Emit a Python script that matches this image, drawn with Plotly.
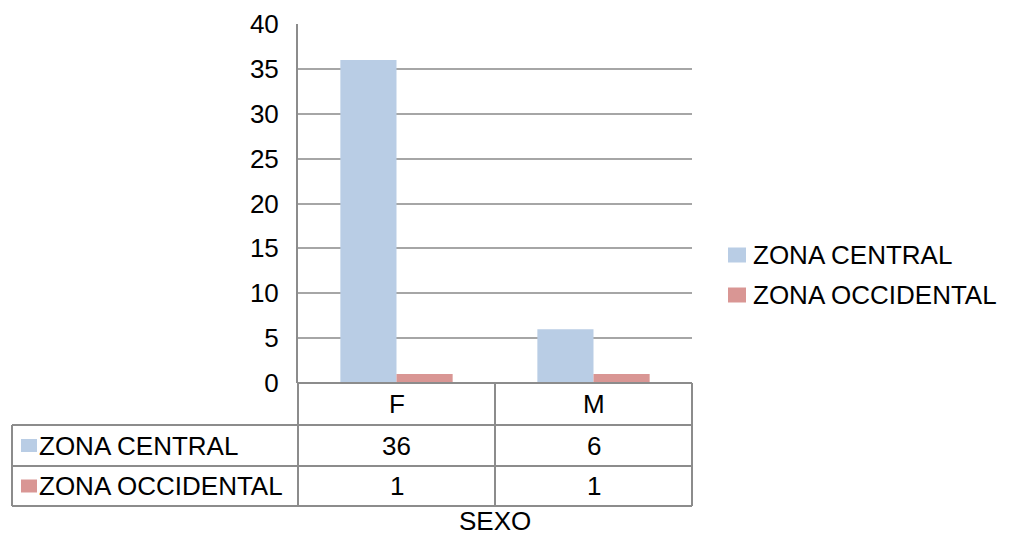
import plotly.graph_objects as go

# Data
categories = ["F", "M"]
series_names = ["ZONA CENTRAL", "ZONA OCCIDENTAL"]
zona_central = [36, 6]
zona_occidental = [1, 1]
series_values = [zona_central, zona_occidental]
colors = ["#B9CDE5", "#D99694"]
x_title = "SEXO"

W, H = 1010, 537
FONT = "Liberation Sans"
FS = 26
GRID = "#A6A6A6"
LINE = "#8C8C8C"

# pixel helpers (paper coords with zero margins)
def px(x):
    return x / W

def py(y):
    return 1 - y / H

plot_left, plot_right = 298, 692
plot_top, plot_bottom = 24, 383
rows_y = [383, 425, 466, 506]
col_x = [12, 298, 495, 692]
legend_rows = [255, 295]

fig = go.Figure()
for name, vals, col in zip(series_names, series_values, colors):
    fig.add_trace(go.Bar(x=categories, y=vals, name=name, marker_color=col,
                         marker_line_width=0, showlegend=False))

shapes = []
# table horizontal lines
shapes.append(dict(type="line", xref="paper", yref="paper", x0=px(plot_left), x1=px(col_x[-1]),
                   y0=py(rows_y[0]), y1=py(rows_y[0]), line=dict(color=LINE, width=2)))
for yy in rows_y[1:]:
    shapes.append(dict(type="line", xref="paper", yref="paper", x0=px(col_x[0]), x1=px(col_x[-1]),
                       y0=py(yy), y1=py(yy), line=dict(color=LINE, width=2)))
# table vertical lines
shapes.append(dict(type="line", xref="paper", yref="paper", x0=px(col_x[0]), x1=px(col_x[0]),
                   y0=py(rows_y[1]), y1=py(rows_y[3]), line=dict(color=LINE, width=2)))
for xx in col_x[1:]:
    shapes.append(dict(type="line", xref="paper", yref="paper", x0=px(xx), x1=px(xx),
                       y0=py(rows_y[0]), y1=py(rows_y[3]), line=dict(color=LINE, width=2)))

text_font = dict(size=FS, color="#000", family=FONT)
annotations = []
centers = [(col_x[1] + col_x[2]) / 2, (col_x[2] + col_x[3]) / 2]
header_y = (rows_y[0] + rows_y[1]) / 2
for c, cx in zip(categories, centers):
    annotations.append(dict(x=px(cx), y=py(header_y), xref="paper", yref="paper", text=c,
                            yanchor="middle", showarrow=False, font=text_font))
for i, (name, vals, col) in enumerate(zip(series_names, series_values, colors)):
    ry = (rows_y[i + 1] + rows_y[i + 2]) / 2
    for v, cx in zip(vals, centers):
        annotations.append(dict(x=px(cx), y=py(ry), xref="paper", yref="paper", text=str(v),
                                yanchor="middle", showarrow=False, font=text_font))
    # legend key square in the row header
    shapes.append(dict(type="rect", xref="paper", yref="paper", x0=px(21), x1=px(37),
                       y0=py(ry + 6.5), y1=py(ry - 6.5), fillcolor=col, line=dict(width=0)))
    annotations.append(dict(x=px(37), y=py(ry), xref="paper", yref="paper", text=name,
                            xanchor="left", yanchor="middle", showarrow=False, font=text_font))

    # side legend
    ly = legend_rows[i]
    shapes.append(dict(type="rect", xref="paper", yref="paper", x0=px(728), x1=px(746),
                       y0=py(ly + 7.5), y1=py(ly - 7.5), fillcolor=col, line=dict(width=0)))
    annotations.append(dict(x=px(751), y=py(ly), xref="paper", yref="paper", text=name,
                            xanchor="left", yanchor="middle", showarrow=False, font=text_font))

# axis title under the table
annotations.append(dict(x=px(495), y=0, xref="paper", yref="paper", text=x_title,
                        yanchor="bottom", borderpad=0, showarrow=False, font=text_font))

fig.update_layout(
    width=W, height=H,
    margin=dict(l=0, r=0, t=0, b=0, autoexpand=False),
    paper_bgcolor="white", plot_bgcolor="white",
    barmode="group", bargap=0.43, bargroupgap=0,
    font=dict(family=FONT, size=FS, color="#000"),
    showlegend=False,
    xaxis=dict(domain=[px(plot_left), px(plot_right)], showticklabels=False, showgrid=False,
               zeroline=False, showline=False, ticks="", automargin=False),
    yaxis=dict(domain=[py(plot_bottom), py(plot_top)], range=[0, 40], dtick=5,
               showgrid=True, gridcolor=GRID, gridwidth=1.5, zeroline=False,
               showline=True, linecolor=LINE, linewidth=2, ticks="", automargin=False,
               ticklabelstandoff=12, tickfont=text_font),
    shapes=shapes,
    annotations=annotations,
)

fig.write_html("out.html")
